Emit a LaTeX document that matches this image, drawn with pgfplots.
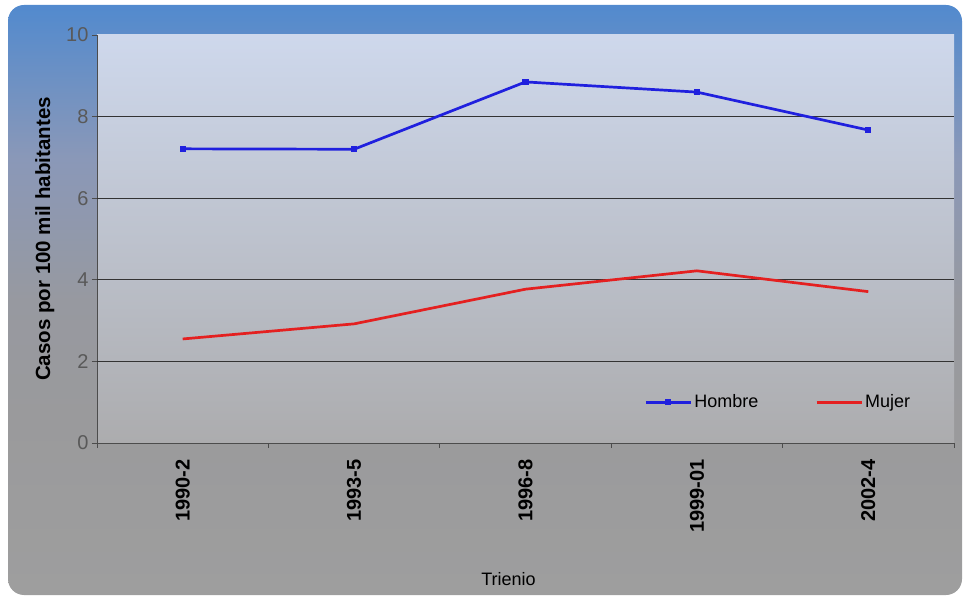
\documentclass[border=0pt]{standalone}
\usepackage{fontspec}
\setmainfont{Liberation Sans}
\usepackage{pgfplots}
\pgfplotsset{compat=1.18}
\definecolor{hombre}{RGB}{32,32,222}
\definecolor{mujer}{RGB}{228,32,32}
\definecolor{bgtop}{RGB}{82,138,206}
\definecolor{bgup}{RGB}{138,152,184}
\definecolor{bgmid}{RGB}{151,153,160}
\definecolor{bglow}{RGB}{154,154,156}
\definecolor{bgbot}{RGB}{158,158,158}
\definecolor{pltop}{RGB}{206,216,236}
\definecolor{plbot}{RGB}{172,172,174}
\pgfdeclareverticalshading{outerbg}{100bp}{color(0bp)=(bgbot); color(25bp)=(bgbot);
  color(40bp)=(bglow); color(50bp)=(bgmid); color(62bp)=(bgup); color(75bp)=(bgtop); color(100bp)=(bgtop)}

\begin{document}
\begin{tikzpicture}[x=1pt,y=1pt]
\useasboundingbox (0,0) rectangle (966,597);
\shade[rounded corners=16pt, shading=outerbg] (8,2) rectangle (962,592);
\begin{axis}[
  at={(97pt,154pt)}, anchor=south west,
  scale only axis, width=857pt, height=408pt,
  xmin=0.5, xmax=5.5, ymin=0, ymax=10,
  xtick={1,...,5},
  xticklabels={1990-2,1993-5,1996-8,1999-01,2002-4},
  major x tick style={draw=none},
  minor xtick={0.5,1.5,...,5.5},
  ytick={0,2,...,10},
  extra y ticks={2,4,6,8}, extra y tick labels={},
  extra y tick style={grid=major, major tick length=0pt},
  tick align=outside, major tick length=5pt, minor tick length=5pt,
  tick style={black!70, line width=0.8pt},
  axis x line*=bottom, axis y line*=left,
  axis line style={-, black!70, line width=1pt},
  grid style={black!80, line width=0.9pt},
  axis background/.style={top color=pltop, bottom color=plbot},
  xticklabel shift=8pt,
  xticklabel style={rotate=90, anchor=east, font=\fontsize{20}{22}\selectfont\bfseries},
  yticklabel style={font=\fontsize{20}{22}\selectfont, text=black!65},
  /pgf/number format/assume math mode=true,
  ylabel={Casos por 100 mil habitantes},
  ylabel style={font=\fontsize{20.5}{22}\selectfont\bfseries},
  xlabel={Trienio},
  xlabel style={font=\fontsize{18}{20}\selectfont, yshift=-33pt, xshift=-17pt},
  legend columns=2,
  legend style={at={(axis description cs:0.795,0.1)}, anchor=center, draw=none, fill=none,
    font=\fontsize{18}{20}\selectfont,
    /tikz/every even column/.append style={column sep=55pt}},
  legend image code/.code={%
    \draw[#1, mark=none, line width=2.8pt] (0pt,0pt) -- (45pt,0pt);
    \draw[#1, only marks] plot coordinates {(22pt,0pt)};},
]
\addplot[hombre, line width=2.7pt, mark=square*, mark size=1.8pt]
  coordinates {(1,7.21) (2,7.20) (3,8.85) (4,8.60) (5,7.67)};
\addplot[mujer, line width=2.7pt]
  coordinates {(1,2.55) (2,2.92) (3,3.77) (4,4.22) (5,3.71)};
\legend{Hombre,Mujer}
\end{axis}
\end{tikzpicture}
\end{document}
